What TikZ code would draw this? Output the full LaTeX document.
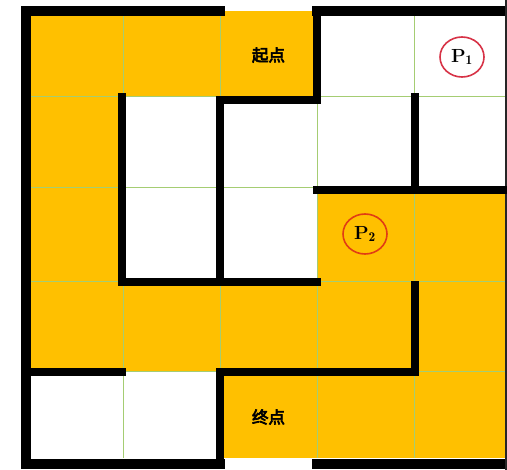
\documentclass[tikz,border=0pt]{standalone}
\usepackage{fontspec}
\newfontfamily\cjk[AutoFakeBold=4]{Noto Sans CJK SC}
\definecolor{mazeorange}{RGB}{255,192,0}
\definecolor{gridgreen}{RGB}{165,205,115}
\definecolor{pone}{RGB}{215,50,70}
\definecolor{ptwo}{RGB}{225,60,20}
\tikzset{
  cell/.style={fill=mazeorange, draw=none},
  gridline/.style={draw=gridgreen, line width=1pt},
  wall/.style={draw=black, line width=7.5pt, line cap=rect, line join=miter},
  outerwall/.style={draw=black, line width=10.5pt, line cap=rect, line join=miter},
  lbl/.style={font=\cjk\bfseries\fontsize{16.5}{16.5}\selectfont, inner sep=0pt},
  pmark/.style={ellipse, draw, line width=1.6pt, minimum width=44pt, minimum height=40pt, inner sep=0pt,
    font=\bfseries\fontsize{19}{19}\selectfont}
}
\usetikzlibrary{shapes.geometric}
\begin{document}
\begin{tikzpicture}[x=1pt,y=-1pt]
\useasboundingbox (0,0) rectangle (507,470);
\fill[white] (0,0) rectangle (507,470);
% orange cells
\fill[cell] (26,11) rectangle (317,97);
\fill[cell] (26,97) rectangle (123,372);
\fill[cell] (123,282) rectangle (505,372);
\fill[cell] (317,188) rectangle (505,282);
\fill[cell] (220,372) rectangle (505,458);
% grid lines
\foreach \x in {123,220,317,414} \draw[gridline] (\x,11) -- (\x,458);
\foreach \y in {97,188,282,372} \draw[gridline] (26,\y) -- (505,\y);
% outer walls
\draw[outerwall] (220,11) -- (26,11) -- (26,464) -- (220,464);
\draw[outerwall] (317,11) -- (502,11);
\draw[outerwall] (317,464) -- (502,464);
\draw[draw=black!85, line width=2pt] (506,0) -- (506,470);
% inner walls
\draw[wall] (317,11) -- (317,100) -- (220,100) -- (220,282);
\draw[wall] (122,97) -- (122,282) -- (317,282);
\draw[wall] (415,97) -- (415,190) -- (505,190);
\draw[wall] (317,190) -- (415,190);
\draw[wall] (415,285) -- (415,372) -- (220,372) -- (220,464);
\draw[wall] (26,372) -- (122,372);
% labels
\node[lbl] (start) at (268.5,55) {起点};
\node[lbl] (finish) at (268.5,417) {终点};
\node[pmark, draw=pone] (p1) at (462,57) {P$_{\mathbf{1}}$};
\node[pmark, draw=ptwo] (p2) at (365,234) {P$_{\mathbf{2}}$};
\end{tikzpicture}
\end{document}
